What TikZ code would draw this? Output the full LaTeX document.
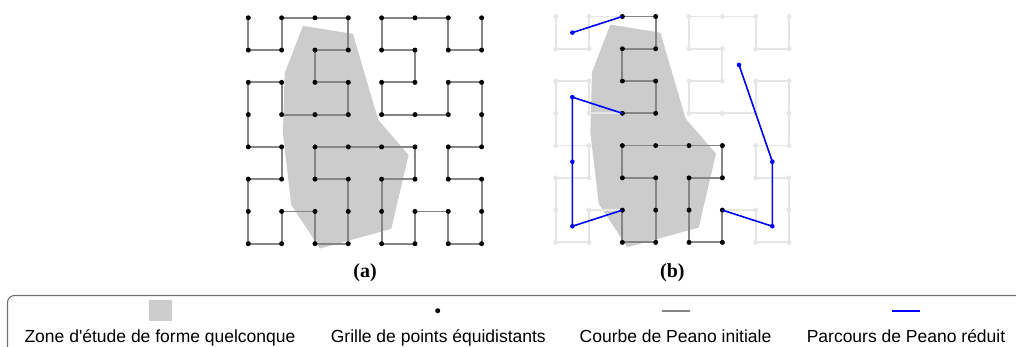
\documentclass[tikz,border=0pt]{standalone}
\usepackage{fontspec}
\usetikzlibrary{calc}
\setmainfont{Liberation Serif}
\newfontfamily\labfont{Liberation Serif Bold}
\newfontfamily\legfont{Liberation Sans}[Ligatures=TeXOff]
\definecolor{zonegray}{HTML}{CCCCCC}
\definecolor{curvegray}{HTML}{858585}
\definecolor{faintgray}{HTML}{E6E6E6}
\definecolor{boxgray}{HTML}{707070}
\def\hilb{0-1,1-1,1-0,2-0,3-0,3-1,2-1,2-2,3-2,3-3,2-3,1-3,1-2,0-2,0-3,0-4,1-4,1-5,0-5,0-6,0-7,1-7,1-6,2-6,2-7,3-7,3-6,3-5,2-5,2-4,3-4,4-4,5-4,5-5,4-5,4-6,4-7,5-7,5-6,6-6,6-7,7-7,7-6,7-5,6-5,6-4,7-4,7-3,7-2,6-2,6-3,5-3,4-3,4-2,5-2,5-1,4-1,4-0,5-0,6-0,6-1,7-1,7-0}
\begin{document}
\begin{tikzpicture}[x=1pt,y=-1pt,
  zone/.style={fill=zonegray,draw=none},
  curveA/.style={draw=curvegray,line width=1.8pt,line join=miter},
  faint/.style={draw=faintgray,line width=1.8pt},
  dotA/.style={circle,fill=black,inner sep=0pt,minimum size=5pt},
  faintdot/.style={circle,fill=faintgray,inner sep=0pt,minimum size=5pt},
  bluepath/.style={draw=blue,line width=1.6pt},
  bluedot/.style={circle,fill=blue,inner sep=0pt,minimum size=4.6pt},
  lab/.style={font=\labfont\fontsize{20}{22}\selectfont,anchor=base},
  legtext/.style={font=\legfont\fontsize{17.5}{20}\selectfont,anchor=base}]
\useasboundingbox (0,0) rectangle (1016,347);
% grid coordinates
\foreach \i in {0,...,7}{\foreach \j in {0,...,7}{
  \coordinate (a-\i-\j) at ({248.3+33.33*\i},{17.8+32.27*\j});
  \coordinate (b-\i-\j) at ({555.7+33.33*\i},{16.5+32.27*\j});
}}
% zones
\foreach \ox/\oy in {248.3/17.8,555.7/16.5}{
\begin{scope}[shift={(\ox,\oy)},x=33.33pt,y=-32.27pt]
\fill[zone] (1.64,0.25) -- (3.14,0.50) -- (3.90,3.17) -- (4.81,4.25) -- (4.29,6.54) -- (2.15,7.15) -- (1.29,5.80) -- (1.04,3.60) -- (1.09,1.72) -- cycle;
\end{scope}}
% (a)
\draw[curveA] (a-0-0) \foreach \p in \hilb {-- (a-\p)};
\foreach \i in {0,...,7}{\foreach \j in {0,...,7}{
  \node[dotA] (da-\i-\j) at (a-\i-\j) {};}}
% (b) faint full curve
\draw[faint] (b-0-0) \foreach \p in \hilb {-- (b-\p)};
\foreach \i in {0,...,7}{\foreach \j in {0,...,7}{
  \node[faintdot] (fb-\i-\j) at (b-\i-\j) {};}}
% (b) kept parts
\draw[curveA] (b-2-0) -- (b-3-0) -- (b-3-1) -- (b-2-1) -- (b-2-2) -- (b-3-2) -- (b-3-3) -- (b-2-3);
\draw[curveA] (b-2-6) -- (b-2-7) -- (b-3-7) -- (b-3-6) -- (b-3-5) -- (b-2-5) -- (b-2-4) -- (b-3-4) -- (b-4-4) -- (b-5-4) -- (b-5-5) -- (b-4-5) -- (b-4-6) -- (b-4-7) -- (b-5-7) -- (b-5-6);
\foreach \i in {2,3}{\foreach \j in {0,...,7}{
  \node[dotA] (db-\i-\j) at (b-\i-\j) {};}}
\foreach \i in {4,5}{\foreach \j in {4,...,7}{
  \node[dotA] (db-\i-\j) at (b-\i-\j) {};}}
% blue reduced path
\coordinate (q1) at ($(b-0-0)!0.5!(b-1-1)$);
\coordinate (q2) at ($(b-0-2)!0.5!(b-1-3)$);
\coordinate (q3) at ($(b-0-4)!0.5!(b-1-5)$);
\coordinate (q4) at ($(b-0-6)!0.5!(b-1-7)$);
\coordinate (q5) at ($(b-6-6)!0.5!(b-7-7)$);
\coordinate (q6) at ($(b-6-4)!0.5!(b-7-5)$);
\coordinate (q7) at ($(b-4-0)!0.5!(b-7-3)$);
\draw[bluepath] (q1) -- (b-2-0);
\draw[bluepath] (b-2-3) -- (q2) -- (q3) -- (q4) -- (b-2-6);
\draw[bluepath] (b-5-6) -- (q5) -- (q6) -- (q7);
\foreach \k in {1,...,7}{\node[bluedot] (bq\k) at (q\k) {};}
% labels
\node[lab] (laba) at (365,277) {(a)};
\node[lab] (labb) at (672.4,277) {(b)};
% legend
\begin{scope}
\clip (0,0) rectangle (1016,347);
\draw[boxgray,line width=1.1pt,rounded corners=7pt] (7.5,295.5) rectangle (1040,380);
\end{scope}
\node[fill=zonegray,minimum width=23pt,minimum height=21pt,inner sep=0pt] (legzone) at (160,310.5) {};
\node[legtext] (legzonetxt) at (160,342.5) {Zone d'étude de forme quelconque};
\node[dotA] (legdot) at (437.7,310.7) {};
\node[legtext] (legdottxt) at (438.3,342.5) {Grille de points équidistants};
\coordinate (lgc1) at (662,310.7);
\coordinate (lgc2) at (690,310.7);
\draw[curveA] (lgc1) -- (lgc2);
\node[legtext] (legcurvetxt) at (675.5,342.5) {Courbe de Peano initiale};
\coordinate (lbc1) at (892,310.7);
\coordinate (lbc2) at (920,310.7);
\draw[bluepath] (lbc1) -- (lbc2);
\node[legtext] (legbluetxt) at (906,342.5) {Parcours de Peano réduit};
\end{tikzpicture}
\end{document}
